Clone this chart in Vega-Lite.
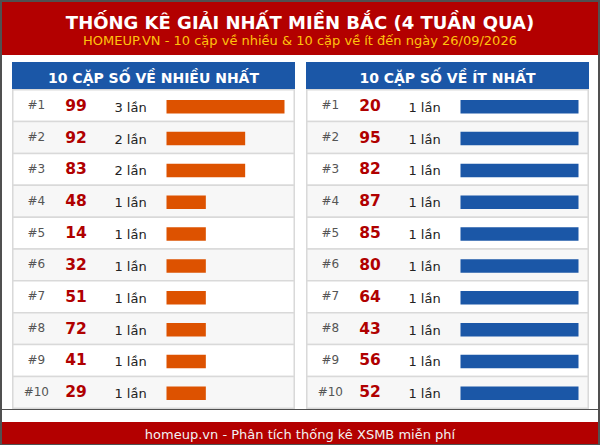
{
  "$schema": "https://vega.github.io/schema/vega-lite/v6.json",
  "padding": 2,
  "background": "#505050",
  "config": {"view": {"stroke": null}, "font": "DejaVu Sans"},
  "spacing": 0,
  "vconcat": [
    {
      "width": 596,
      "height": 53,
      "view": {"fill": "#b30000", "stroke": null},
      "data": {"values": [{"title": "THỐNG KÊ GIẢI NHẤT MIỀN BẮC (4 TUẦN QUA)", "sub": "HOMEUP.VN - 10 cặp về nhiều & 10 cặp về ít đến ngày 26/09/2026"}]},
      "layer": [
        {"mark": {"type": "text", "font": "DejaVu Sans", "fontWeight": "bold", "fontSize": 18, "fill": "#ffffff", "align": "center", "baseline": "alphabetic", "dy": 0.5}, "encoding": {"text": {"field": "title"}}},
        {"mark": {"type": "text", "font": "DejaVu Sans", "fontSize": 13, "fill": "#ffc20e", "align": "center", "baseline": "alphabetic", "dy": 16.5}, "encoding": {"text": {"field": "sub"}}}
      ]
    },
    {"width": 596, "height": 7, "view": {"fill": "#ffffff", "stroke": null}, "data": {"values": []}, "mark": "rect"},
    {
      "spacing": 0,
      "hconcat": [
        {"width": 10, "height": 347, "view": {"fill": "#ffffff", "stroke": null}, "data": {"values": []}, "mark": "rect"},
        {
          "spacing": 0,
          "vconcat": [
            {
              "width": 283, "height": 27,
              "view": {"fill": "#1b57a7", "stroke": null},
              "data": {"values": [{"t": "10 CẶP SỐ VỀ NHIỀU NHẤT"}]},
              "mark": {"type": "text", "font": "DejaVu Sans", "fontWeight": "bold", "fontSize": 14, "fill": "#ffffff", "align": "center", "baseline": "alphabetic", "dy": 7.8},
              "encoding": {"text": {"field": "t"}}
            },
            {
              "width": 283, "height": 320,
              "view": {"fill": "#ffffff", "stroke": null},
              "data": {"values": [
                {"rank": 1, "so": "99", "lan": 3},
                {"rank": 2, "so": "92", "lan": 2},
                {"rank": 3, "so": "83", "lan": 2},
                {"rank": 4, "so": "48", "lan": 1},
                {"rank": 5, "so": "14", "lan": 1},
                {"rank": 6, "so": "32", "lan": 1},
                {"rank": 7, "so": "51", "lan": 1},
                {"rank": 8, "so": "72", "lan": 1},
                {"rank": 9, "so": "41", "lan": 1},
                {"rank": 10, "so": "29", "lan": 1}
              ]},
              "transform": [
                {"calculate": "'#' + datum.rank", "as": "hang"},
                {"calculate": "datum.lan + ' lần'", "as": "lanText"}
              ],
              "encoding": {"y": {"field": "rank", "type": "ordinal", "axis": null, "scale": {"paddingInner": 0, "paddingOuter": 0, "range": [0.75, 319.25]}}},
              "resolve": {"scale": {"x": "independent"}},
              "layer": [
                {"mark": {"type": "rect", "stroke": "#d9d9d9", "strokeWidth": 1.5},
                 "encoding": {"x": {"datum": 0.27, "type": "quantitative", "scale": {"domain": [0, 100]}, "axis": null}, "x2": {"datum": 99.73},
                              "fill": {"condition": {"test": "datum.rank % 2 === 0", "value": "#f7f7f7"}, "value": "#ffffff"}}},
                {"mark": {"type": "text", "fontSize": 12, "fill": "#555555", "align": "center", "baseline": "alphabetic", "dy": 3.5},
                 "encoding": {"x": {"datum": 8.6, "type": "quantitative", "scale": {"domain": [0, 100]}, "axis": null}, "text": {"field": "hang"}}},
                {"mark": {"type": "text", "fontSize": 15.5, "fontWeight": "bold", "fill": "#b00000", "align": "center", "baseline": "alphabetic", "dy": 5},
                 "encoding": {"x": {"datum": 22.65, "type": "quantitative", "scale": {"domain": [0, 100]}, "axis": null}, "text": {"field": "so"}}},
                {"mark": {"type": "text", "fontSize": 13, "fill": "#222222", "align": "center", "baseline": "alphabetic", "dy": 6},
                 "encoding": {"x": {"datum": 41.9, "type": "quantitative", "scale": {"domain": [0, 100]}, "axis": null}, "text": {"field": "lanText"}}},
                {"mark": {"type": "bar", "size": 13.5, "fill": "#dd5200", "yOffset": 1},
                 "encoding": {"x": {"field": "lan", "type": "quantitative", "scale": {"domain": [0, 3], "range": [154.5, 272.5]}, "axis": null}}}
              ]
            }
          ]
        },
        {"width": 11, "height": 347, "view": {"fill": "#ffffff", "stroke": null}, "data": {"values": []}, "mark": "rect"},
        {
          "spacing": 0,
          "vconcat": [
            {
              "width": 283, "height": 27,
              "view": {"fill": "#1b57a7", "stroke": null},
              "data": {"values": [{"t": "10 CẶP SỐ VỀ ÍT NHẤT"}]},
              "mark": {"type": "text", "font": "DejaVu Sans", "fontWeight": "bold", "fontSize": 14, "fill": "#ffffff", "align": "center", "baseline": "alphabetic", "dy": 7.8},
              "encoding": {"text": {"field": "t"}}
            },
            {
              "width": 283, "height": 320,
              "view": {"fill": "#ffffff", "stroke": null},
              "data": {"values": [
                {"rank": 1, "so": "20", "lan": 1},
                {"rank": 2, "so": "95", "lan": 1},
                {"rank": 3, "so": "82", "lan": 1},
                {"rank": 4, "so": "87", "lan": 1},
                {"rank": 5, "so": "85", "lan": 1},
                {"rank": 6, "so": "80", "lan": 1},
                {"rank": 7, "so": "64", "lan": 1},
                {"rank": 8, "so": "43", "lan": 1},
                {"rank": 9, "so": "56", "lan": 1},
                {"rank": 10, "so": "52", "lan": 1}
              ]},
              "transform": [
                {"calculate": "'#' + datum.rank", "as": "hang"},
                {"calculate": "datum.lan + ' lần'", "as": "lanText"}
              ],
              "encoding": {"y": {"field": "rank", "type": "ordinal", "axis": null, "scale": {"paddingInner": 0, "paddingOuter": 0, "range": [0.75, 319.25]}}},
              "resolve": {"scale": {"x": "independent"}},
              "layer": [
                {"mark": {"type": "rect", "stroke": "#d9d9d9", "strokeWidth": 1.5},
                 "encoding": {"x": {"datum": 0.27, "type": "quantitative", "scale": {"domain": [0, 100]}, "axis": null}, "x2": {"datum": 99.73},
                              "fill": {"condition": {"test": "datum.rank % 2 === 0", "value": "#f7f7f7"}, "value": "#ffffff"}}},
                {"mark": {"type": "text", "fontSize": 12, "fill": "#555555", "align": "center", "baseline": "alphabetic", "dy": 3.5},
                 "encoding": {"x": {"datum": 8.6, "type": "quantitative", "scale": {"domain": [0, 100]}, "axis": null}, "text": {"field": "hang"}}},
                {"mark": {"type": "text", "fontSize": 15.5, "fontWeight": "bold", "fill": "#b00000", "align": "center", "baseline": "alphabetic", "dy": 5},
                 "encoding": {"x": {"datum": 22.65, "type": "quantitative", "scale": {"domain": [0, 100]}, "axis": null}, "text": {"field": "so"}}},
                {"mark": {"type": "text", "fontSize": 13, "fill": "#222222", "align": "center", "baseline": "alphabetic", "dy": 6},
                 "encoding": {"x": {"datum": 41.9, "type": "quantitative", "scale": {"domain": [0, 100]}, "axis": null}, "text": {"field": "lanText"}}},
                {"mark": {"type": "bar", "size": 13.5, "fill": "#1b57a7", "yOffset": 1},
                 "encoding": {"x": {"field": "lan", "type": "quantitative", "scale": {"domain": [0, 1], "range": [154.5, 272.5]}, "axis": null}}}
              ]
            }
          ]
        },
        {"width": 9, "height": 347, "view": {"fill": "#ffffff", "stroke": null}, "data": {"values": []}, "mark": "rect"}
      ]
    },
    {"width": 596, "height": 12, "view": {"fill": "#ffffff", "stroke": null}, "data": {"values": []}, "mark": "rect"},
    {
      "width": 596,
      "height": 22,
      "view": {"fill": "#b30000", "stroke": null},
      "data": {"values": [{"t": "homeup.vn - Phân tích thống kê XSMB miễn phí"}]},
      "mark": {"type": "text", "font": "DejaVu Sans", "fontSize": 13, "fill": "#f2f2f2", "align": "center", "baseline": "alphabetic", "dy": 5.5},
      "encoding": {"text": {"field": "t"}}
    }
  ]
}
